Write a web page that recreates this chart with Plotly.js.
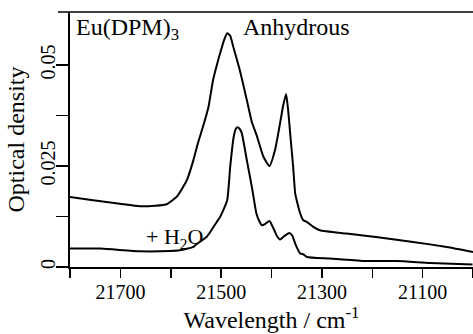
<!DOCTYPE html>
<html>
<head>
<meta charset="utf-8">
<script src="https://cdn.plot.ly/plotly-3.0.1.min.js"></script>
<style>
html,body{margin:0;padding:0;background:#fff}
#chart{width:473px;height:334px}
#chart text, #chart tspan{font-family:'Liberation Serif' !important;}
</style>
</head>
<body>
<div id="chart"></div>
<script>
// Anhydrous Eu(DPM)3 spectrum
const anhydWavenumber = [21800,21754,21701,21661,21631,21608,21588,21568,21555,21546,21535,21525,21516,21509,21502,21494,21488,21482,21476,21463,21449,21439,21429,21416,21404,21393,21383,21377,21371,21367,21363,21357,21353,21350,21343,21337,21330,21317,21304,21251,21185,21119,21052,21000];
const anhydOD = [0.01735,0.01654,0.01567,0.01505,0.01517,0.01554,0.01740,0.02149,0.02645,0.03067,0.03513,0.03966,0.04628,0.04975,0.0529,0.0562,0.05786,0.0572,0.05454,0.04877,0.04133,0.03587,0.0324,0.02727,0.02496,0.02893,0.03555,0.03984,0.04281,0.03885,0.03314,0.02479,0.0182,0.01653,0.01324,0.01158,0.01116,0.00992,0.0091,0.00828,0.00729,0.0062,0.00496,0.00372];
// + H2O spectrum
const hydWavenumber = [21800,21740,21661,21601,21582,21555,21549,21529,21522,21509,21502,21488,21482,21475,21471,21468,21463,21459,21449,21439,21430,21425,21419,21412,21404,21396,21389,21383,21375,21365,21359,21353,21343,21337,21330,21284,21218,21151,21085,21001];
const hydOD = [0.00456,0.00456,0.00389,0.00397,0.00414,0.00496,0.00563,0.00744,0.0086,0.01108,0.0124,0.01653,0.02479,0.03223,0.03414,0.03456,0.03414,0.03314,0.02645,0.01983,0.01324,0.01158,0.01034,0.01071,0.0114,0.00952,0.00761,0.00679,0.00761,0.00843,0.00786,0.0058,0.00332,0.00315,0.00248,0.00208,0.00149,0.00149,0.00099,0.0006];

const xTickVals = [21800,21700,21600,21500,21400,21300,21200,21100,21000];
const xTickText = ['','21700','','21500','','21300','','21100',''];
const yTickVals = [0,0.0125,0.025,0.0375,0.05];
const yTickText = ['0','','0.025','','0.05'];

const FONT = 'Liberation Serif';

const traces = [
  {x: anhydWavenumber, y: anhydOD, type: 'scatter', mode: 'lines', name: 'Anhydrous',
   line: {color: '#000', width: 2, shape: 'spline', smoothing: 0.5}, showlegend: false},
  {x: hydWavenumber, y: hydOD, type: 'scatter', mode: 'lines', name: '+ H2O',
   line: {color: '#000', width: 2, shape: 'spline', smoothing: 0.5}, showlegend: false}
];

const layout = {
  width: 473, height: 334,
  margin: {l: 70, r: 0, t: 12, b: 67, pad: 0},
  paper_bgcolor: '#fff', plot_bgcolor: '#fff',
  font: {family: FONT, color: '#000', size: 20},
  xaxis: {
    range: [21800, 21000],
    tickvals: xTickVals, ticktext: xTickText,
    ticks: 'outside', ticklen: 9, tickwidth: 1.5, tickcolor: '#000',
    ticklabelstandoff: -3,
    showline: true, linewidth: 2, linecolor: '#000',
    showgrid: false, zeroline: false,
    tickfont: {family: FONT, size: 20, color: '#000'},
    title: {text: 'Wavelength / cm<sup>-1</sup>', font: {family: FONT, size: 24, color: '#000'}, standoff: 6}
  },
  yaxis: {
    range: [0, 0.0631],
    tickvals: yTickVals, ticktext: yTickText, tickangle: -90,
    ticks: 'outside', ticklen: 12, tickwidth: 1.5, tickcolor: '#000',
    ticklabelstandoff: -7,
    showline: true, linewidth: 2, linecolor: '#000',
    showgrid: false, zeroline: false,
    tickfont: {family: FONT, size: 20, color: '#000'},
    title: {text: 'Optical density', font: {family: FONT, size: 24, color: '#000'}, standoff: 6}
  },
  shapes: [
    {type: 'line', xref: 'paper', yref: 'paper', x0: -0.03, x1: 1, y0: 1, y1: 1,
     line: {color: '#000', width: 1.5}}
  ],
  annotations: [
    {text: 'Eu(DPM)<sub>3</sub>', xref: 'paper', yref: 'paper', x: 0.01, y: 1.0,
     xanchor: 'left', yanchor: 'top', showarrow: false, font: {family: FONT, size: 24, color: '#000'}},
    {text: 'Anhydrous', xref: 'paper', yref: 'paper', x: 0.425, y: 1.0,
     xanchor: 'left', yanchor: 'top', showarrow: false, font: {family: FONT, size: 24, color: '#000'}},
    {text: '+ H<sub>2</sub>O', xref: 'x', yref: 'y', x: 21593, y: 0.0072,
     xanchor: 'center', yanchor: 'middle', showarrow: false, font: {family: FONT, size: 22, color: '#000'}}
  ]
};

const config = {displayModeBar: false, staticPlot: true};
Plotly.newPlot('chart', traces, layout, config);
if (document.fonts && document.fonts.load) {
  document.fonts.load('20px "Liberation Serif"').then(function () {
    Plotly.newPlot('chart', traces, layout, config);
  }).catch(function () {});
}
</script>
</body>
</html>
